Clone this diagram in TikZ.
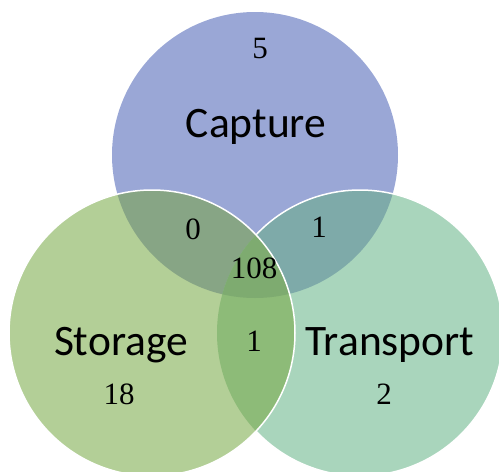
\documentclass[tikz,border=0pt]{standalone}
\usepackage{fontspec}
\setmainfont{Liberation Serif}
\newfontfamily\labelfont{Carlito}
\definecolor{cOnly}{HTML}{9AA7D6}
\definecolor{sOnly}{HTML}{B3CF97}
\definecolor{tOnly}{HTML}{A9D5BC}
\definecolor{csCol}{HTML}{87A585}
\definecolor{ctCol}{HTML}{7EAAA9}
\definecolor{stCol}{HTML}{8DBB78}
\definecolor{cstCol}{HTML}{7EAB70}
\tikzset{
  setlabel/.style={font=\labelfont\fontsize{43.5}{45}\selectfont, anchor=base, inner sep=0pt},
  countlabel/.style={font=\fontsize{31}{33}\selectfont, anchor=base, inner sep=0pt},
  rim/.style={draw=white, line width=1.5pt}
}
\begin{document}
\begin{tikzpicture}[x=1pt,y=-1pt]
\useasboundingbox (0,0) rectangle (499,472);
\begin{scope}
\clip (0,0) rectangle (499,472);
% single-set fills
\fill[cOnly] (255,155) circle (143);
\fill[tOnly] (360,333) circle (143);
\fill[sOnly] (152,333) circle (143);
% pairwise overlaps
\begin{scope}
  \clip (255,155) circle (143);
  \fill[csCol] (152,333) circle (143);
  \fill[ctCol] (360,333) circle (143);
\end{scope}
\begin{scope}
  \clip (152,333) circle (143);
  \fill[stCol] (360,333) circle (143);
  \clip (360,333) circle (143);
  \fill[cstCol] (255,155) circle (143);
\end{scope}
% white rims
\draw[rim] (360,333) ++(-136.7:143) arc[start angle=-136.7, end angle=136.7, radius=143];
\draw[rim] (152,333) circle (143);
\end{scope}
% labels
\node[setlabel] (cap) at (256,137) {Capture};
\node[setlabel] (sto) at (121,355) {Storage};
\node[setlabel] (tra) at (390,355) {Transport};
\node[countlabel] (n5) at (260,58) {5};
\node[countlabel] (n0) at (193,239) {0};
\node[countlabel] (n1a) at (319,237) {1};
\node[countlabel] (n108) at (254,278) {108};
\node[countlabel] (n1b) at (254,351) {1};
\node[countlabel] (n18) at (119,404) {18};
\node[countlabel] (n2) at (384,404) {2};
\end{tikzpicture}
\end{document}
